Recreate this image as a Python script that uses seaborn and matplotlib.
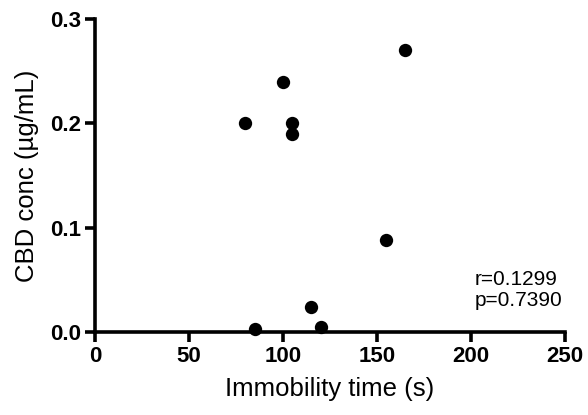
import matplotlib
matplotlib.use("Agg")
import matplotlib.pyplot as plt
import seaborn as sns
import pandas as pd

immobility = [80, 100, 105, 105, 165, 155, 115, 120, 85]
cbd_conc = [0.200, 0.240, 0.200, 0.190, 0.270, 0.088, 0.024, 0.005, 0.003]
x_ticks = [0, 50, 100, 150, 200, 250]
y_ticks = [0.0, 0.1, 0.2, 0.3]
stats_text = "r=0.1299\np=0.7390"

sns.set_style("ticks")
plt.rcParams['font.family'] = ['Liberation Sans', 'DejaVu Sans']
plt.rcParams['text.color'] = 'black'
plt.rcParams['axes.labelcolor'] = 'black'
plt.rcParams['axes.edgecolor'] = 'black'
plt.rcParams['xtick.color'] = 'black'
plt.rcParams['ytick.color'] = 'black'

df = pd.DataFrame({"x": immobility, "y": cbd_conc})
fig = plt.figure(figsize=(5.88, 4.15), dpi=100)
ax = fig.add_axes([0.1616, 0.2, 0.7993, 0.7542])
sns.scatterplot(data=df, x="x", y="y", ax=ax, s=92, color="black",
                edgecolor="black", linewidth=0, clip_on=False, zorder=3)
ax.set_xlim(0, 250)
ax.set_ylim(0, 0.3)
ax.set_xticks(x_ticks)
ax.set_yticks(y_ticks)
ax.set_xticklabels([str(t) for t in x_ticks], fontsize=16, fontweight="bold")
ax.set_yticklabels([f"{t:.1f}" for t in y_ticks], fontsize=16, fontweight="bold")
ax.set_xlabel("Immobility time (s)", fontsize=18.5, labelpad=7)
ax.set_ylabel("CBD conc (µg/mL)", fontsize=18.5, labelpad=8)
for s in ["top", "right"]:
    ax.spines[s].set_visible(False)
for s in ["left", "bottom"]:
    ax.spines[s].set_linewidth(2.6)
ax.tick_params(width=2.6, length=7, pad=3)
ax.text(0.8085, 0.134, stats_text, transform=ax.transAxes, fontsize=15,
        va="center", ha="left", linespacing=1.1)
fig.savefig("out.png", dpi=100)
